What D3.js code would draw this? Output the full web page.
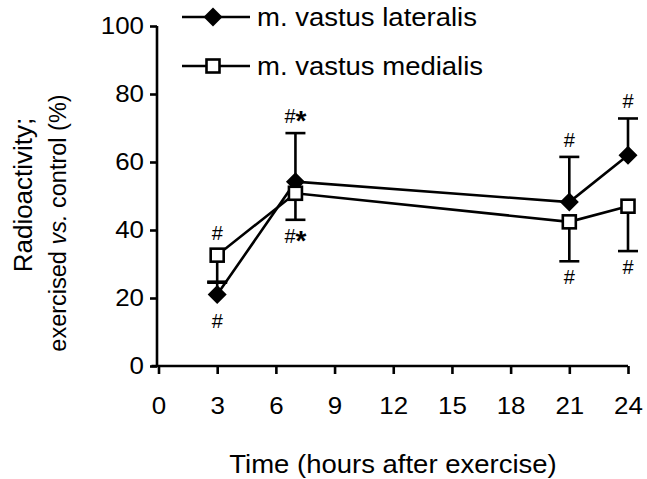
<!DOCTYPE html>
<html><head><meta charset="utf-8">
<script src="https://cdn.jsdelivr.net/npm/d3@7"></script>
<style>body{margin:0;background:#fff}svg{display:block}text{font-family:"Liberation Sans",Arial,sans-serif;fill:#000}</style>
</head><body><svg id="c" width="647" height="479"></svg>
<script>
const hours = [3, 7, 21, 24];
const lateralis = [21, 54.2, 48.2, 62];
const lateralisErrUp = [24.5, 68.5, 61.5, 72.8];
const medialis = [32.6, 50.8, 42.4, 47];
const medialisErrDown = [24.8, 43, 30.8, 33.8];
const lateralisMarks = [["#", "below"], ["#*", "above"], ["#", "above"], ["#", "above"]];
const medialisMarks = [["#", "above"], ["#*", "below"], ["#", "below"], ["#", "below"]];
const xTicks = [0, 3, 6, 9, 12, 15, 18, 21, 24];
const yTicks = [0, 20, 40, 60, 80, 100];
const seriesNames = ["m. vastus lateralis", "m. vastus medialis"];

const FONT = '"Liberation Sans",Arial,sans-serif';
const svg = d3.select("#c");
const x = d3.scaleLinear().domain([0, 24]).range([158.5, 628]);
const y = d3.scaleLinear().domain([0, 100]).range([366, 26]);
const sw = 2.6;

function stretch(sel, sx) {
  sel.each(function () {
    const t = d3.select(this);
    const tx = +t.attr("x") || 0;
    const prev = t.attr("transform") || "";
    t.attr("x", 0).attr("transform", `${prev} translate(${tx},0) scale(${sx},1)`);
  });
}

// axes
const xa = svg.append("g").attr("transform", `translate(0,${y(0)})`)
  .call(d3.axisBottom(x).tickValues(xTicks).tickSize(8).tickSizeOuter(0).tickPadding(23));
xa.select(".domain").attr("d", `M151.5,0H${x(24)}`);
const ya = svg.append("g").attr("transform", `translate(${x(0) - 1.5},0)`)
  .call(d3.axisLeft(y).tickValues(yTicks).tickSize(7).tickSizeOuter(0).tickPadding(6));
ya.select(".domain").attr("d", `M0,${y(0)}V${y(100)}`);
[xa, ya].forEach(a => {
  a.selectAll(".domain,line").attr("stroke", "#000").attr("stroke-width", sw);
  a.selectAll("text").attr("font-size", 24).attr("font-family", FONT);
  stretch(a.selectAll("text"), 1.08);
});

const xt = svg.append("text").attr("x", 393).attr("y", 473).attr("text-anchor", "middle")
  .attr("font-size", 25).text("Time (hours after exercise)");
stretch(xt, 1.1);
svg.append("text").attr("transform", "translate(32,195) rotate(-90)").attr("text-anchor", "middle")
  .attr("font-size", 26).text("Radioactivity;");
const t2 = svg.append("text").attr("transform", "translate(66,223) rotate(-90)").attr("text-anchor", "middle")
  .attr("font-size", 23.5);
t2.append("tspan").text("exercised ");
t2.append("tspan").attr("font-style", "italic").text("vs.");
t2.append("tspan").text(" control (%)");

const line = d3.line().x(d => x(d[0])).y(d => y(d[1]));
const capW = 10;
const g = svg.append("g");

function errBars(vals, errs) {
  hours.forEach((h, i) => {
    g.append("line").attr("x1", x(h)).attr("x2", x(h)).attr("y1", y(vals[i])).attr("y2", y(errs[i]))
      .attr("stroke", "#000").attr("stroke-width", sw);
    g.append("line").attr("x1", x(h) - capW).attr("x2", x(h) + capW).attr("y1", y(errs[i])).attr("y2", y(errs[i]))
      .attr("stroke", "#000").attr("stroke-width", sw);
  });
}
errBars(lateralis, lateralisErrUp);
errBars(medialis, medialisErrDown);

g.append("path").datum(hours.map((h, i) => [h, lateralis[i]])).attr("d", line)
  .attr("fill", "none").attr("stroke", "#000").attr("stroke-width", sw);
g.append("path").datum(hours.map((h, i) => [h, medialis[i]])).attr("d", line)
  .attr("fill", "none").attr("stroke", "#000").attr("stroke-width", sw);

function diamond(sel, cx, cy) {
  const r = 9.5;
  sel.append("path").attr("d", `M${cx},${cy - r}L${cx + r},${cy}L${cx},${cy + r}L${cx - r},${cy}Z`).attr("fill", "#000");
}
function square(sel, cx, cy) {
  const s = 13;
  sel.append("rect").attr("x", cx - s / 2).attr("y", cy - s / 2).attr("width", s).attr("height", s)
    .attr("fill", "#fff").attr("stroke", "#000").attr("stroke-width", sw);
}
hours.forEach((h, i) => diamond(g, x(h), y(lateralis[i])));
hours.forEach((h, i) => square(g, x(h), y(medialis[i])));

function marks(refs, ms) {
  hours.forEach((h, i) => {
    const [txt, pos] = ms[i];
    const yy = pos === "above" ? y(refs[i]) - 10 : y(refs[i]) + 23;
    const t = g.append("text").attr("x", x(h)).attr("y", yy).attr("text-anchor", "middle").attr("font-size", 20);
    t.append("tspan").text("#");
    if (txt.includes("*")) t.append("tspan").attr("font-weight", "bold").attr("font-size", 28).attr("dy", 7).text("*");
  });
}
marks(hours.map((h, i) => lateralisMarks[i][1] === "below" ? lateralis[i] - 3 : lateralisErrUp[i]), lateralisMarks);
marks(hours.map((h, i) => medialisMarks[i][1] === "above" ? medialis[i] + 1.5 : medialisErrDown[i]), medialisMarks);

// legend
const lg = svg.append("g");
[0, 1].forEach(k => {
  const ly = 17 + k * 49;
  lg.append("line").attr("x1", 182).attr("x2", 250).attr("y1", ly).attr("y2", ly).attr("stroke", "#000").attr("stroke-width", sw);
  if (k === 0) diamond(lg, 213, ly); else square(lg, 213, ly);
  const lt = lg.append("text").attr("x", 257).attr("y", ly + 9).attr("font-size", 25).text(seriesNames[k]);
  stretch(lt, 1.1);
});
</script></body></html>
